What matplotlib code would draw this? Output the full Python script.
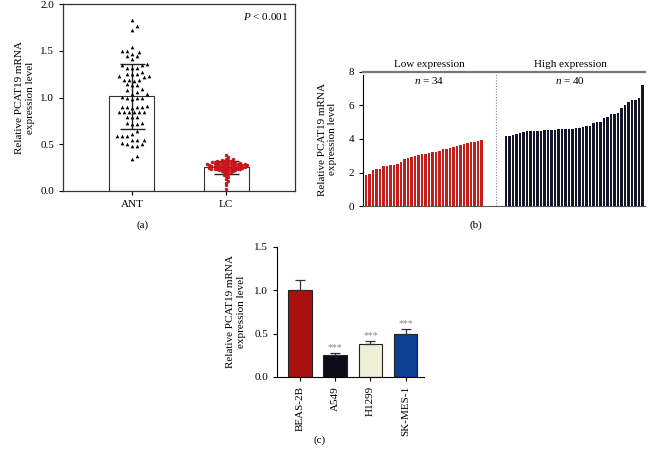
import numpy as np
import matplotlib
matplotlib.use("Agg")
import matplotlib.pyplot as plt

plt.rcParams['font.family'] = ['Liberation Serif', 'DejaVu Serif']
plt.rcParams['font.size'] = 8
plt.rcParams['mathtext.fontset'] = 'custom'
plt.rcParams['mathtext.rm'] = 'Liberation Serif'
plt.rcParams['mathtext.it'] = 'Liberation Serif:italic'

# --- data ---
# (a) individual samples
ant_values = [1.83, 1.76, 1.72, 1.54, 1.50, 1.50, 1.49, 1.47, 1.44, 1.44,
              1.41, 1.36, 1.35, 1.35, 1.32, 1.32, 1.32, 1.27, 1.25, 1.25,
              1.25, 1.23, 1.22, 1.23, 1.19, 1.19, 1.18, 1.19, 1.13, 1.14,
              1.13, 1.09, 1.08, 1.04, 1.04, 1.06, 1.00, 0.99, 0.99, 0.98,
              1.01, 0.90, 0.89, 0.90, 0.90, 0.91, 0.90, 0.84, 0.84, 0.84,
              0.84, 0.84, 0.84, 0.79, 0.79, 0.79, 0.73, 0.72, 0.72, 0.73,
              0.64, 0.59, 0.59, 0.59, 0.55, 0.55, 0.55, 0.61, 0.50, 0.51,
              0.50, 0.48, 0.48, 0.37, 0.34]
lc_values = ([0.02, 0.06, 0.09, 0.11, 0.13, 0.15, 0.16, 0.17, 0.18, 0.19,
              0.20, 0.20, 0.21, 0.21, 0.21, 0.22, 0.22, 0.22, 0.23, 0.23, 0.23, 0.23]
             + [0.24] * 6 + [0.25] * 5 + [0.26] * 5 + [0.27] * 6 + [0.28] * 6
             + [0.29] * 6 + [0.30] * 5 + [0.31] * 4 + [0.32] * 3 + [0.33] * 2
             + [0.34] * 2 + [0.36, 0.38])
groups_a = ["ANT", "LC"]

# (b) sorted per-patient expression
low_expr = [1.85, 1.9, 2.15, 2.2, 2.22, 2.4, 2.4, 2.42, 2.45, 2.48,
            2.65, 2.82, 2.88, 2.92, 3.0, 3.05, 3.1, 3.12, 3.15, 3.2,
            3.22, 3.3, 3.38, 3.4, 3.45, 3.5, 3.58, 3.62, 3.68, 3.78,
            3.8, 3.8, 3.9, 3.92]
high_expr = [4.15, 4.18, 4.25, 4.28, 4.35, 4.4, 4.45, 4.45, 4.48, 4.5,
             4.5, 4.52, 4.52, 4.55, 4.55, 4.58, 4.6, 4.6, 4.62, 4.62,
             4.65, 4.68, 4.72, 4.75, 4.78, 4.95, 5.0, 5.02, 5.25, 5.3,
             5.48, 5.5, 5.58, 5.85, 6.05, 6.2, 6.3, 6.35, 6.45, 7.25]

# (c) cell lines
cell_lines = ["BEAS-2B", "A549", "H1299", "SK-MES-1"]
cell_means = [1.0, 0.25, 0.38, 0.50]
cell_errs = [0.12, 0.03, 0.03, 0.05]
cell_sig = ["", "***", "***", "***"]
cell_colors = ["#a8110f", "#0c0c18", "#eef0d6", "#0b3f94"]

ylab = "Relative PCAT19 mRNA\nexpression level"


def swarm(vals, d_px, px_x, px_y):
    # greedy beeswarm in pixel space; px_x / px_y = pixels per data unit
    ys = np.asarray(vals) * px_y
    order = np.argsort(ys)
    placed = []
    offs = np.zeros(len(ys))
    cands = [0.0]
    for k in range(1, 60):
        cands += [k * d_px * 0.5, -k * d_px * 0.5]
    for i in order:
        for c in cands:
            if all((c - px) ** 2 + (ys[i] - py) ** 2 >= d_px ** 2 for px, py in placed):
                break
        placed.append((c, ys[i]))
        offs[i] = c / px_x
    return offs


fig = plt.figure(figsize=(6.48, 4.54), dpi=100)

# ---------- (a) ----------
ax = fig.add_axes([63 / 648, 1 - 191 / 454, 232 / 648, 187 / 454])
px_x, px_y = 232 / 2.46, 187 / 2.0
for i, (vals, mk, col, dd, ms) in enumerate([
        (ant_values, "^", "black", 5.0, 7),
        (lc_values, "o", "#c8141a", 2.3, 6)]):
    m, sd = np.mean(vals), np.std(vals, ddof=1)
    ax.bar(i, m, width=0.48, color="white", edgecolor="#333333", linewidth=0.8, zorder=1)
    ax.errorbar(i, m, yerr=sd, color="#222222", capsize=9, elinewidth=1.0,
                capthick=1.0, zorder=2)
    ax.scatter(i + swarm(vals, dd, px_x, px_y), vals, marker=mk, s=ms, color=col,
               linewidths=0, zorder=3)
ax.set_xlim(-0.73, 1.73)
ax.set_ylim(0, 2.0)
ax.set_yticks([0, 0.5, 1.0, 1.5, 2.0])
ax.set_xticks([0, 1])
ax.set_xticklabels(groups_a)
ax.tick_params(length=3, width=0.8)
for s in ax.spines.values():
    s.set_linewidth(0.9)
    s.set_color("#333333")
ax.set_ylabel(ylab, labelpad=4)
ax.text(0.97, 0.965, r"$P$ < 0.001", transform=ax.transAxes, ha="right", va="top")
fig.text(143 / 648, 1 - 225 / 454, "(a)", ha="center", va="center")

# ---------- (b) ----------
bx = fig.add_axes([363 / 648, 1 - 206 / 454, 282 / 648, 134 / 454])
x_low = np.arange(len(low_expr))
x_high = np.arange(len(high_expr)) + len(low_expr) + 6
bx.bar(x_low, low_expr, width=0.72, color="#c0201c", linewidth=0)
bx.bar(x_high, high_expr, width=0.72, color="#15152b", linewidth=0)
sep = len(low_expr) + 3
bx.axvline(sep, color="#888888", linestyle=(0, (1, 1.5)), linewidth=0.8)
bx.axhline(8, color="#777777", linewidth=1.6, clip_on=False)
bx.set_xlim(-0.9, x_high[-1] + 0.7)
bx.set_ylim(0, 8)
bx.set_yticks([0, 2, 4, 6, 8])
bx.set_xticks([])
for s in ["top", "right"]:
    bx.spines[s].set_visible(False)
bx.spines["left"].set_bounds(0, 7.85)
bx.spines["bottom"].set_color("#555555")
bx.tick_params(length=3, width=0.8)
bx.set_ylabel(ylab, labelpad=8)
lx = (x_low[0] - 0.9 + sep) / 2
hx = (sep + x_high[-1] + 0.7) / 2
bx.text(lx, 8.15, "Low expression", ha="center", va="bottom", clip_on=False)
bx.text(hx, 8.15, "High expression", ha="center", va="bottom", clip_on=False)
bx.text(lx, 7.85, r"$n$ = %d" % len(low_expr), ha="center", va="top")
bx.text(hx, 7.85, r"$n$ = %d" % len(high_expr), ha="center", va="top")
fig.text(476 / 648, 1 - 225 / 454, "(b)", ha="center", va="center")

# ---------- (c) ----------
cx = fig.add_axes([277 / 648, 1 - 377 / 454, 147 / 648, 130 / 454])
xc = np.arange(len(cell_lines))
cx.bar(xc, cell_means, width=0.67, color=cell_colors, edgecolor="#222222", linewidth=0.8)
cx.errorbar(xc, cell_means, yerr=[np.zeros(len(cell_errs)), cell_errs], fmt="none",
            ecolor="#333333", capsize=3.5, elinewidth=0.9, capthick=0.9)
for x, m, e, t in zip(xc, cell_means, cell_errs, cell_sig):
    cx.text(x, m + e + 0.01, t, ha="center", va="bottom", color="#888888", fontsize=7)
cx.set_xlim(-0.65, 3.52)
cx.set_ylim(0, 1.5)
cx.set_yticks([0, 0.5, 1.0, 1.5])
cx.set_xticks(xc)
cx.set_xticklabels(cell_lines, rotation=90)
for s in ["top", "right"]:
    cx.spines[s].set_visible(False)
cx.tick_params(length=3, width=0.8)
cx.set_ylabel(ylab, labelpad=6)
fig.text(320 / 648, 1 - 440 / 454, "(c)", ha="center", va="center")

fig.savefig("out.png", dpi=100)
